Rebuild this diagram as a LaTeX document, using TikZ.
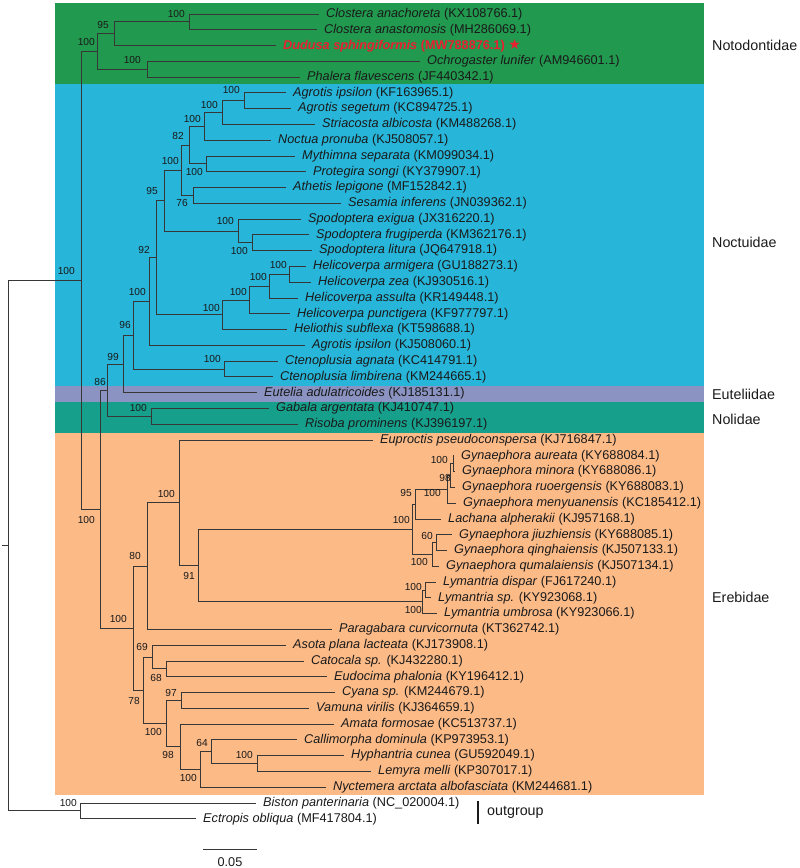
\documentclass[tikz,border=0pt]{standalone}
\usepackage{fontspec}
\setmainfont{Liberation Sans}
\newfontfamily\symfont{DejaVu Sans}
\definecolor{cNoto}{RGB}{33,153,78}
\definecolor{cNoct}{RGB}{39,181,217}
\definecolor{cEute}{RGB}{139,147,194}
\definecolor{cNoli}{RGB}{22,160,139}
\definecolor{cEreb}{RGB}{252,186,135}
\definecolor{txt}{RGB}{26,26,26}
\definecolor{edge}{RGB}{55,55,55}
\definecolor{dred}{RGB}{232,32,48}
\newcommand\yi[1]{14+(#1-1)*15.78}
\begin{document}
\begin{tikzpicture}[x=1pt,y=-1pt,
  leaf/.style={anchor=west,inner sep=0pt,text=txt,font=\fontsize{12.7}{14}\selectfont},
  boot/.style={anchor=east,inner sep=0pt,text=txt,font=\fontsize{10.2}{11}\selectfont},
  fam/.style={anchor=west,inner sep=0pt,text=txt,font=\fontsize{14.3}{16}\selectfont},
  br/.style={draw=edge,line width=0.9pt}]
\useasboundingbox (0,0) rectangle (800,868);
% background bands
\fill[cNoto] (55,3) rectangle (704,84);
\fill[cNoct] (55,84) rectangle (704,386);
\fill[cEute] (55,386) rectangle (704,402);
\fill[cNoli] (55,402) rectangle (704,433);
\fill[cEreb] (55,433) rectangle (704,795);
% leaves
\foreach \i/\x/\sp/\acc in {
1/319/Clostera anachoreta/KX108766.1,
2/317/Clostera anastomosis/MH286069.1,
4/420/Ochrogaster lunifer/AM946601.1,
5/300/Phalera flavescens/JF440342.1,
6/286/Agrotis ipsilon/KF163965.1,
7/291/Agrotis segetum/KC894725.1,
8/315/Striacosta albicosta/KM488268.1,
9/271/Noctua pronuba/KJ508057.1,
10/295/Mythimna separata/KM099034.1,
11/306/Protegira songi/KY379907.1,
12/286/Athetis lepigone/MF152842.1,
13/341/Sesamia inferens/JN039362.1,
14/301/Spodoptera exigua/JX316220.1,
15/309/Spodoptera frugiperda/KM362176.1,
16/312/Spodoptera litura/JQ647918.1,
17/306/Helicoverpa armigera/GU188273.1,
18/311/Helicoverpa zea/KJ930516.1,
19/298/Helicoverpa assulta/KR149448.1,
20/290/Helicoverpa punctigera/KF977797.1,
21/287/Heliothis subflexa/KT598688.1,
22/305/Agrotis ipsilon/KJ508060.1,
23/278/Ctenoplusia agnata/KC414791.1,
24/273/Ctenoplusia limbirena/KM244665.1,
25/257/Eutelia adulatricoides/KJ185131.1,
26/269/Gabala argentata/KJ410747.1,
27/298/Risoba prominens/KJ396197.1,
28/373/Euproctis pseudoconspersa/KJ716847.1,
29/454/Gynaephora aureata/KY688084.1,
30/455/Gynaephora minora/KY688086.1,
31/455/Gynaephora ruoergensis/KY688083.1,
32/456/Gynaephora menyuanensis/KC185412.1,
33/441/Lachana alpherakii/KJ957168.1,
34/452/Gynaephora jiuzhiensis/KY688085.1,
35/447/Gynaephora qinghaiensis/KJ507133.1,
36/439/Gynaephora qumalaiensis/KJ507134.1,
37/436/Lymantria dispar/FJ617240.1,
38/431/Lymantria sp./KY923068.1,
39/437/Lymantria umbrosa/KY923066.1,
40/332/Paragabara curvicornuta/KT362742.1,
41/286/Asota plana lacteata/KJ173908.1,
42/304/Catocala sp./KJ432280.1,
43/327/Eudocima phalonia/KY196412.1,
44/335/Cyana sp./KM244679.1,
45/309/Vamuna virilis/KJ364659.1,
46/334/Amata formosae/KC513737.1,
47/297/Callimorpha dominula/KP973953.1,
48/344/Hyphantria cunea/GU592049.1,
49/371/Lemyra melli/KP307017.1,
50/326/Nyctemera arctata albofasciata/KM244681.1,
51/256/Biston panterinaria/NC\_020004.1,
52/196/Ectropis obliqua/MF417804.1}{
  \coordinate (L\i) at (\x,{\yi{\i}});
  \node[leaf] (T\i) at ([xshift=7pt]L\i) {\textit{\sp} (\acc)};
}
\coordinate (L3) at (276,{\yi{3}});
\node[leaf,text=dred,font=\fontsize{12.7}{14}\selectfont\bfseries] (T3) at ([xshift=7pt]L3)
  {\textit{Dudusa sphingiformis} (MW788876.1) {\symfont\fontsize{14}{14}\selectfont ★}};
% internal nodes
\foreach \n/\x/\k in {
A1/189/1.5, A2/114/2.25, A3/147/4.5, A4/97/3.375,
B1/244/6.5, B2/222/7.25, B3/204/8.125, B4/206/10.5, B5/189/9.3125, B6/193/12.5,
B7/181/10.90625, B8/252/15.5, B9/238/14.75, B10/164/12.828125,
H1/289/17.5, H2/269/18.25, H3/249/19.125, H4/222/20.0625,
B11/156/16.4453, B12/149/19.2227, C1/224/23.5, B13/133/21.3613, B14/123/23.1807,
D1/151/26.5, B15/107/24.8403,
G1/453/29.5, G2/450/30.25, G3/447/31.125, G4/415/32.0625, G5/436/34.5, G6/432/35.25,
G7/412/33.65625, M1/425/37.5, M2/422/38.25,
E1/198/35.953, E2/179/31.977, E3/147/35.988, E4/166/42.5, E5/152/41.75, E6/181/44.5,
E7/257/48.5, E8/211/47.75, E9/200/48.875, E10/180/47.4375, E11/166/45.96875,
E12/143/43.859, E13/133/39.924, R1/100/32.382, R2/81/17.878, O1/80/51.5, R3/8/34.689}{
  \coordinate (\n) at (\x,{\yi{\k}});
}
\coordinate (R0) at (2,{\yi{34.689}});
% edges
\foreach \p/\c in {
A1/L1, A1/L2, A2/A1, A2/L3, A3/L4, A3/L5, A4/A2, A4/A3,
B1/L6, B1/L7, B2/B1, B2/L8, B3/B2, B3/L9, B4/L10, B4/L11, B5/B3, B5/B4, B6/L12, B6/L13,
B7/B5, B7/B6, B8/L15, B8/L16, B9/L14, B9/B8, B10/B7, B10/B9,
H1/L17, H1/L18, H2/H1, H2/L19, H3/H2, H3/L20, H4/H3, H4/L21,
B11/B10, B11/H4, B12/B11, B12/L22, C1/L23, C1/L24, B13/B12, B13/C1, B14/B13, B14/L25,
D1/L26, D1/L27, B15/B14, B15/D1,
G1/L29, G1/L30, G2/G1, G2/L31, G3/G2, G3/L32, G4/G3, G4/L33, G5/L34, G5/L35, G6/G5, G6/L36,
G7/G4, G7/G6, M1/L37, M1/L38, M2/M1, M2/L39, E1/G7, E1/M2, E2/L28, E2/E1, E3/E2, E3/L40,
E4/L42, E4/L43, E5/L41, E5/E4, E6/L44, E6/L45, E7/L48, E7/L49, E8/L47, E8/E7, E9/E8, E9/L50,
E10/L46, E10/E9, E11/E6, E11/E10, E12/E5, E12/E11, E13/E3, E13/E12,
R1/B15, R1/E13, R2/A4, R2/R1, O1/L51, O1/L52, R3/R2, R3/O1}{
  \draw[br] (\p) |- (\c);
}
\draw[br] (R0) -- (R3);
% bootstrap values
\foreach \n/\x/\y/\v in {
A1/185/14/100, A2/109/25/95, A3/141/60/100, A4/95/42/100, R2/75/271/100,
B1/240/90/100, B2/218/105/100, B3/201/119/100, B5/184/136/82, B4/203/172/100,
B7/179/161/100, B6/188/203/76, B10/158/191/95, B9/234/221/100, B8/248/251/100,
B11/150/250/92, H1/287/265/100, H2/267/277/100, H3/247/292/100, H4/220/308/100,
B12/146/292/100, B13/131/325/96, C1/221/359/100, B14/119/357/99, D1/147/408/100,
B15/106/382/86, R1/95/520/100,
G1/448/460/100, G2/451/478/98, G3/441/493/100, G4/412/493/95, G7/410/520/100,
G5/433/536/60, G6/428/562/100, M1/422/587/100, M2/422/610/100,
E1/195/576/91, E2/175/494/100, E3/141/556/80, E13/127/619/100, E5/148/647/69,
E4/162/678/68, E12/140/701/78, E6/177/693/97, E11/162/732/100, E10/174/755/98,
E8/208/743/64, E7/253/755/100, E9/197/778/100, O1/77/803/100}{
  \node[boot] (bs\n) at (\x,\y) {\v};
}
% family labels
\node[fam] (fNoto) at (712,45) {Notodontidae};
\node[fam] (fNoct) at (712,242) {Noctuidae};
\node[fam] (fEute) at (712,394) {Euteliidae};
\node[fam] (fNoli) at (712,419) {Nolidae};
\node[fam] (fEreb) at (712,597) {Erebidae};
\coordinate (og1) at (478,801);
\coordinate (og2) at (478,824);
\draw[line width=1.3pt,txt] (og1) -- (og2);
\node[fam] (fOut) at (487,812) {outgroup};
% scale bar
\coordinate (sb1) at (203,849);
\coordinate (sb2) at (257,849);
\draw[br] (sb1) -- (sb2);
\node[inner sep=0pt,text=txt,font=\fontsize{12.7}{14}\selectfont] (sbl) at (230,862) {0.05};
\end{tikzpicture}
\end{document}
